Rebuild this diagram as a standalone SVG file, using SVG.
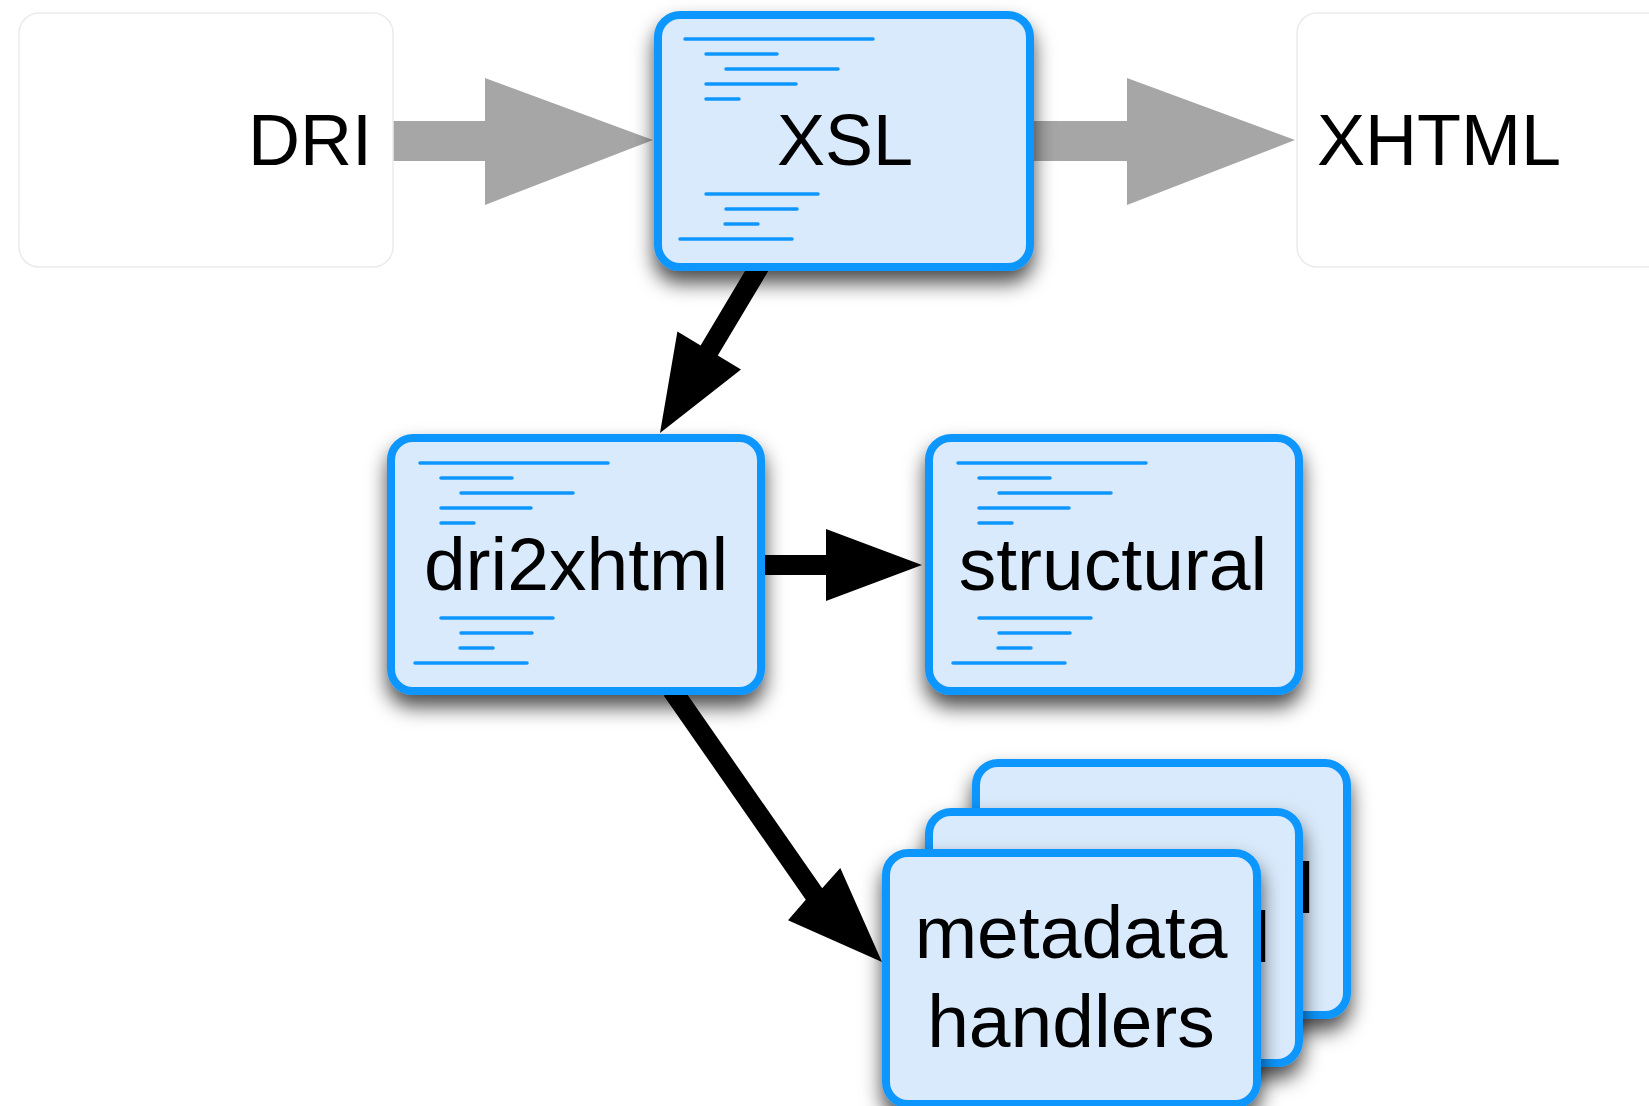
<svg xmlns="http://www.w3.org/2000/svg" xmlns:xlink="http://www.w3.org/1999/xlink" width="1649" height="1106" viewBox="0 0 1649 1106">
<style>
.plain{fill:#ffffff;stroke:#ebebeb;stroke-width:1.5}
.card{fill:#d9eafc;stroke:#1196fd;stroke-width:8}
.doc line{stroke:#1196fd;stroke-width:3.5;stroke-linecap:round}
.lbl{font-family:"Liberation Sans",Arial,Helvetica,sans-serif;fill:#000}
.big{font-size:72px}
.low{font-size:75px}
.gray{fill:#a6a6a6}
.blk{fill:#000}
</style>
<defs>
<filter id="sh" x="-20%" y="-25%" width="140%" height="165%">
<feDropShadow dx="0" dy="12" stdDeviation="10" flood-color="#000" flood-opacity="0.7"/>
</filter>
<g id="doclines" class="doc">
<line x1="29" y1="25" x2="217" y2="25"/>
<line x1="50" y1="40" x2="121" y2="40"/>
<line x1="70" y1="55" x2="182" y2="55"/>
<line x1="50" y1="70" x2="140" y2="70"/>
<line x1="50" y1="85" x2="83" y2="85"/>
<line x1="50" y1="180" x2="162" y2="180"/>
<line x1="70" y1="195" x2="141" y2="195"/>
<line x1="69" y1="210" x2="102" y2="210"/>
<line x1="24" y1="225" x2="136" y2="225"/>
</g>
</defs>
<rect width="1649" height="1106" fill="#ffffff"/>

<g id="connectors">
<polygon class="gray" points="393,121 485,121 485,78 653,140 485,205 485,161 393,161"/>
<polygon class="gray" points="1030,121 1127,121 1127,78 1295,140 1127,205 1127,161 1030,161"/>
<polygon class="blk" points="753.4,256.9 700.6,345.4 677.4,331.6 660,433 741,369.4 717.8,355.6 770.6,267.1"/>
<polygon class="blk" points="760,555 826,555 826,529 922,565 826,601 826,575 760,575"/>
<polygon class="blk" points="663.8,695.7 805.8,899.7 788,920.3 882,962 840.3,868 822.2,888.3 680.2,684.3"/>
</g>

<g id="node-dri">
<rect class="plain" x="19" y="13" width="374" height="254" rx="20"/>
<text class="lbl big" x="372" y="165" text-anchor="end">DRI</text>
</g>

<g id="node-xhtml">
<rect class="plain" x="1297" y="13" width="380" height="254" rx="20"/>
<text class="lbl big" x="1317" y="165">XHTML</text>
</g>

<g id="node-xsl" filter="url(#sh)">
<rect class="card" x="658" y="15" width="372" height="252" rx="22"/>
<use xlink:href="#doclines" transform="translate(656,14)"/>
<text class="lbl big" x="845" y="165" text-anchor="middle">XSL</text>
</g>

<g id="node-dri2xhtml" filter="url(#sh)">
<rect class="card" x="391" y="438" width="370" height="253" rx="22"/>
<use xlink:href="#doclines" transform="translate(391,438)"/>
<text class="lbl low" x="576" y="590" text-anchor="middle">dri2xhtml</text>
</g>

<g id="node-structural" filter="url(#sh)">
<rect class="card" x="929" y="438" width="370" height="253" rx="22"/>
<use xlink:href="#doclines" transform="translate(929,438)"/>
<text class="lbl low" x="1113" y="590" text-anchor="middle">structural</text>
</g>

<g id="node-metadata-back" filter="url(#sh)">
<rect class="card" x="976" y="763" width="371" height="252" rx="22"/>
<text class="lbl big" x="1298" y="913">l</text>
</g>

<g id="node-metadata-middle" filter="url(#sh)">
<rect class="card" x="929" y="812" width="370" height="251" rx="22"/>
<text class="lbl big" x="1254" y="962">l</text>
</g>

<g id="node-metadata-handlers" filter="url(#sh)">
<rect class="card" x="886" y="853" width="371" height="251" rx="22"/>
<text class="lbl low" x="1071" y="958" text-anchor="middle">metadata</text>
<text class="lbl low" x="1071" y="1047" text-anchor="middle">handlers</text>
</g>
</svg>
